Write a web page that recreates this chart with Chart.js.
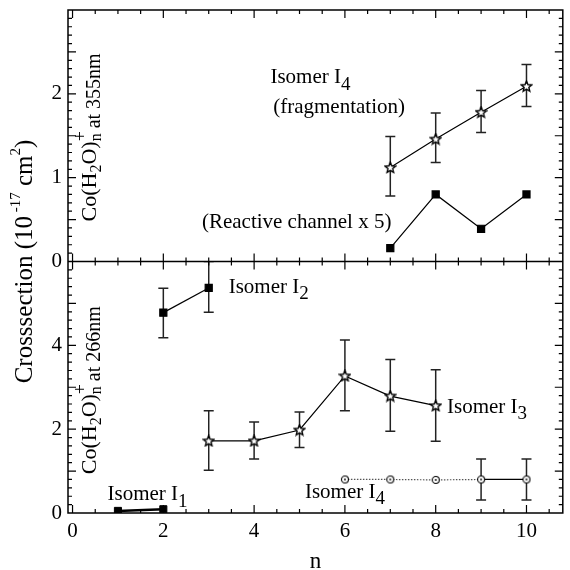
<!DOCTYPE html>
<html>
<head>
<meta charset="utf-8">
<script src="https://cdn.jsdelivr.net/npm/chart.js@4.4.1/dist/chart.umd.min.js"></script>
<style>
  html, body { margin: 0; padding: 0; background: #fff; }
</style>
</head>
<body>
<canvas id="chart" width="570" height="570"></canvas>
<script>
const FONT = "'Liberation Serif', 'Times New Roman', serif";

// x axis (n) tick labels
const xTicks = [0, 2, 4, 6, 8, 10];
const topTicks = [0, 1, 2];
const botTicks = [0, 2, 4];

// upper panel: 355 nm
const nTop = [7, 8, 9, 10];
const fragI4 = [1.12, 1.46, 1.78, 2.09];
const fragI4Lo = [0.78, 1.18, 1.54, 1.85];
const fragI4Hi = [1.49, 1.77, 2.04, 2.35];
const reactive = [0.16, 0.80, 0.39, 0.80];

// lower panel: 266 nm
const nI1 = [1, 2];
const isoI1 = [0.05, 0.09];
const nI2 = [2, 3];
const isoI2 = [4.78, 5.37];
const isoI2Lo = [4.18, 4.79];
const isoI2Hi = [5.36, 6.0];
const nI3 = [3, 4, 5, 6, 7, 8];
const isoI3 = [1.72, 1.72, 1.98, 3.27, 2.79, 2.56];
const isoI3Lo = [1.02, 1.29, 1.56, 2.44, 1.95, 1.71];
const isoI3Hi = [2.44, 2.17, 2.41, 4.13, 3.66, 3.42];
const nI4 = [6, 7, 8, 9, 10];
const isoI4 = [0.80, 0.80, 0.79, 0.80, 0.80];
const isoI4Lo = [null, null, null, 0.31, 0.31];
const isoI4Hi = [null, null, null, 1.29, 1.29];

function pts(xs, ys) {
  return xs.map((x, i) => ({ x: x, y: ys[i] }));
}

function starImg() {
  const c = document.createElement('canvas');
  c.width = c.height = 13;
  const g = c.getContext('2d');
  const R = 5.6, r = 2.5, cx = 6.5, cy = 6.8;
  g.beginPath();
  for (let k = 0; k < 10; k++) {
    const a = -Math.PI / 2 + k * Math.PI / 5;
    const rr = k % 2 ? r : R;
    g.lineTo(cx + rr * Math.cos(a), cy + rr * Math.sin(a));
  }
  g.closePath();
  g.fillStyle = '#fff';
  g.fill();
  g.lineWidth = 1.4;
  g.strokeStyle = '#000';
  g.stroke();
  return c;
}

function circleImg() {
  const c = document.createElement('canvas');
  c.width = c.height = 10;
  const g = c.getContext('2d');
  g.beginPath();
  g.arc(5, 5, 3.5, 0, Math.PI * 2);
  g.fillStyle = '#fff';
  g.fill();
  g.lineWidth = 1.1;
  g.strokeStyle = '#000';
  g.stroke();
  g.beginPath();
  g.arc(5, 5, 0.9, 0, Math.PI * 2);
  g.fillStyle = '#000';
  g.fill();
  return c;
}

const star = starImg();
const circ = circleImg();

// rich text: parts drawn one after another, "over" parts sit on top of the previous one
function drawRich(ctx, parts, x, y, rotate, align) {
  let w = 0;
  const widths = [];
  parts.forEach(p => {
    ctx.font = p.size + 'px ' + FONT;
    const pw = ctx.measureText(p.t).width;
    widths.push(pw);
    if (!p.over) w += pw;
  });
  ctx.save();
  ctx.translate(x, y);
  if (rotate) ctx.rotate(-Math.PI / 2);
  ctx.textBaseline = 'middle';
  ctx.textAlign = 'left';
  ctx.fillStyle = '#000';
  let cx = align === 'center' ? -w / 2 : 0;
  let prevX = cx;
  parts.forEach((p, i) => {
    ctx.font = p.size + 'px ' + FONT;
    const px = p.over ? prevX : cx;
    ctx.fillText(p.t, px, p.dy || 0);
    if (!p.over) {
      prevX = cx;
      cx += widths[i];
    }
  });
  ctx.restore();
}

function isomer(sub) {
  return [{ t: 'Isomer I', size: 21 }, { t: sub, size: 19, dy: 7 }];
}

const notes = [
  { axis: 'yTop', x: 4.36, y: 2.19, parts: isomer('4') },
  { axis: 'yTop', x: 4.42, y: 1.84, parts: [{ t: '(fragmentation)', size: 21 }] },
  { axis: 'yTop', x: 2.85, y: 0.46, parts: [{ t: '(Reactive channel x 5)', size: 21 }] },
  { axis: 'yBot', x: 3.44, y: 5.38, parts: isomer('2') },
  { axis: 'yBot', x: 8.25, y: 2.52, parts: isomer('3') },
  { axis: 'yBot', x: 0.77, y: 0.43, parts: isomer('1') },
  { axis: 'yBot', x: 5.12, y: 0.50, parts: isomer('4') }
];

function coLabel(nm) {
  return [
    { t: 'Co(H', size: 22 },
    { t: '2', size: 16, dy: 6 },
    { t: 'O)', size: 22 },
    { t: 'n', size: 16, dy: 6 },
    { t: '+', size: 18, dy: -9, over: true },
    { t: ' at ' + nm, size: 20, dy: 4 }
  ];
}

const panelLabels = [
  { axis: 'yTop', x: 0.4, y: 1.48, parts: coLabel('355nm') },
  { axis: 'yBot', x: 0.4, y: 2.93, parts: coLabel('266nm') }
];

const errorBars = {
  id: 'errorBars',
  beforeDatasetsDraw(chart) {
    const ctx = chart.ctx;
    const x = chart.scales.x;
    chart.data.datasets.forEach(ds => {
      if (!ds.errLo) return;
      const y = chart.scales[ds.yAxisID];
      ctx.save();
      ctx.beginPath();
      ctx.rect(x.left, y.top, x.right - x.left, y.bottom - y.top);
      ctx.clip();
      ctx.strokeStyle = '#222';
      ctx.lineWidth = 1.5;
      ds.data.forEach((p, i) => {
        if (ds.errLo[i] == null) return;
        const px = x.getPixelForValue(p.x);
        const lo = y.getPixelForValue(ds.errLo[i]);
        const hi = y.getPixelForValue(ds.errHi[i]);
        ctx.beginPath();
        ctx.moveTo(px, lo); ctx.lineTo(px, hi);
        ctx.moveTo(px - 5, lo); ctx.lineTo(px + 5, lo);
        ctx.moveTo(px - 5, hi); ctx.lineTo(px + 5, hi);
        ctx.stroke();
      });
      ctx.restore();
    });
  }
};

const frame = {
  id: 'frame',
  afterDatasetsDraw(chart) {
    const ctx = chart.ctx;
    const a = chart.chartArea;
    const x = chart.scales.x;
    const yT = chart.scales.yTop;
    const yB = chart.scales.yBot;
    const mid = yT.bottom;
    ctx.save();
    ctx.strokeStyle = '#000';
    ctx.lineWidth = 1.5;
    ctx.strokeRect(a.left, a.top, a.right - a.left, a.bottom - a.top);
    ctx.beginPath();
    ctx.moveTo(a.left, mid); ctx.lineTo(a.right, mid);
    ctx.stroke();

    ctx.lineWidth = 1.2;
    ctx.beginPath();
    for (let v = 0; v <= 10.5; v += 0.5) {
      const px = x.getPixelForValue(v);
      const len = v % 2 === 0 ? 8 : 4;
      ctx.moveTo(px, a.bottom); ctx.lineTo(px, a.bottom - len);
      ctx.moveTo(px, a.top); ctx.lineTo(px, a.top + len);
      ctx.moveTo(px, mid - len); ctx.lineTo(px, mid + len);
    }
    for (let k = 1; k < 30; k++) {
      const py = yT.getPixelForValue(k / 10);
      const len = k % 5 === 0 ? 8 : 4;
      ctx.moveTo(a.left, py); ctx.lineTo(a.left + len, py);
      ctx.moveTo(a.right, py); ctx.lineTo(a.right - len, py);
    }
    for (let k = 1; k < 30; k++) {
      const py = yB.getPixelForValue(k / 5);
      const len = k % 5 === 0 ? 8 : 4;
      ctx.moveTo(a.left, py); ctx.lineTo(a.left + len, py);
      ctx.moveTo(a.right, py); ctx.lineTo(a.right - len, py);
    }
    ctx.stroke();
    ctx.restore();

    notes.forEach(n => {
      const sy = chart.scales[n.axis];
      drawRich(ctx, n.parts, x.getPixelForValue(n.x), sy.getPixelForValue(n.y), false, 'left');
    });
    panelLabels.forEach(n => {
      const sy = chart.scales[n.axis];
      drawRich(ctx, n.parts, x.getPixelForValue(n.x), sy.getPixelForValue(n.y), true, 'center');
    });

    drawRich(ctx, [
      { t: 'Crosssection (10', size: 25 },
      { t: ' -17', size: 15, dy: -9 },
      { t: ' cm', size: 25 },
      { t: '2', size: 15, dy: -9 },
      { t: ')', size: 25 }
    ], 25, (a.top + a.bottom) / 2, true, 'center');
  }
};

function noPadding(scale) {
  scale.getPadding = () => ({ left: 0, right: 0, top: 0, bottom: 0 });
}

const yCommon = {
  type: 'linear',
  position: 'left',
  stack: 'panels',
  stackWeight: 1,
  offset: false,
  grid: { display: false, drawTicks: false },
  border: { display: false },
  afterFit(scale) {
    scale.width = 68;
    noPadding(scale);
  }
};

new Chart(document.getElementById('chart'), {
  type: 'line',
  data: {
    datasets: [
      {
        label: 'Isomer I4 (fragmentation)',
        data: pts(nTop, fragI4), errLo: fragI4Lo, errHi: fragI4Hi,
        yAxisID: 'yTop', borderColor: '#000', borderWidth: 1.2,
        pointStyle: star, pointRadius: 6
      },
      {
        label: 'Reactive channel x 5',
        data: pts(nTop, reactive),
        yAxisID: 'yTop', borderColor: '#000', backgroundColor: '#000', borderWidth: 1.2,
        pointStyle: 'rect', pointRadius: 5
      },
      {
        label: 'Isomer I1',
        data: pts(nI1, isoI1),
        yAxisID: 'yBot', borderColor: '#000', backgroundColor: '#000', borderWidth: 2.5,
        pointStyle: 'rect', pointRadius: 5, pointBorderWidth: 1
      },
      {
        label: 'Isomer I2',
        data: pts(nI2, isoI2), errLo: isoI2Lo, errHi: isoI2Hi,
        yAxisID: 'yBot', borderColor: '#000', backgroundColor: '#000', borderWidth: 1.2,
        pointStyle: 'rect', pointRadius: 5
      },
      {
        label: 'Isomer I3',
        data: pts(nI3, isoI3), errLo: isoI3Lo, errHi: isoI3Hi,
        yAxisID: 'yBot', borderColor: '#000', borderWidth: 1.2,
        pointStyle: star, pointRadius: 6
      },
      {
        label: 'Isomer I4',
        data: pts(nI4, isoI4), errLo: isoI4Lo, errHi: isoI4Hi,
        yAxisID: 'yBot', borderColor: '#000', borderWidth: 1.2,
        pointStyle: circ, pointRadius: 5,
        segment: {
          borderDash: c => c.p1DataIndex <= 3 ? [1.5, 1.5] : undefined,
          borderColor: c => c.p1DataIndex <= 3 ? '#555' : undefined
        }
      }
    ]
  },
  options: {
    responsive: false,
    animation: false,
    events: [],
    layout: { padding: { top: 10, right: 3, left: 0, bottom: 0 } },
    plugins: { legend: { display: false }, tooltip: { enabled: false } },
    scales: {
      x: {
        type: 'linear',
        min: -0.1,
        max: 10.8,
        grid: { display: false, drawTicks: false },
        border: { display: false },
        ticks: {
          stepSize: 2,
          includeBounds: false,
          padding: 6,
          color: '#000',
          font: { family: FONT, size: 21 },
          callback: v => xTicks.includes(v) ? String(v) : ''
        },
        title: {
          display: true,
          text: 'n',
          color: '#000',
          font: { family: FONT, size: 23, lineHeight: 1 },
          padding: { top: 0, bottom: -3 }
        },
        afterFit(scale) {
          scale.height = 57;
          noPadding(scale);
        }
      },
      // lower panel listed first so the upper panel is stacked on top
      yBot: Object.assign({}, yCommon, {
        min: 0, max: 6,
        ticks: {
          stepSize: 2, padding: 6, color: '#000',
          font: { family: FONT, size: 21 },
          callback: v => botTicks.includes(v) ? String(v) : ''
        }
      }),
      yTop: Object.assign({}, yCommon, {
        min: 0, max: 3,
        ticks: {
          stepSize: 1, padding: 6, color: '#000',
          font: { family: FONT, size: 21 },
          callback: v => topTicks.includes(v) ? String(v) : ''
        }
      })
    }
  },
  plugins: [errorBars, frame]
});
</script>
</body>
</html>
